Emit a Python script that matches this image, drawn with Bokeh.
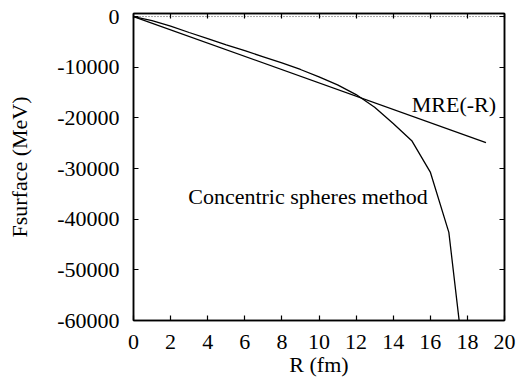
from bokeh.plotting import figure
from bokeh.models import (LinearAxis, FixedTicker, Span, Range1d)
from bokeh.core.properties import value
from bokeh.embed import file_html
from bokeh.resources import INLINE

# ---- data ----
R_spheres = [0, 1, 2, 3, 4, 5, 6, 7, 8, 9, 10, 11, 12, 13, 14, 15, 16, 17, 18]
F_spheres = [0, -800, -1900, -3150, -4350, -5600, -6750, -7950, -9150,
             -10450, -11900, -13500, -15400, -17900, -21100, -24500,
             -30700, -42600, -74000]
R_mre = [0, 19]
F_mre = [0, -24900]

x_ticks = [0, 2, 4, 6, 8, 10, 12, 14, 16, 18, 20]
x_tick_labels = ["0", "2", "4", "6", "8", "10", "12", "14", "16", "18", "20"]
y_ticks = [0, -10000, -20000, -30000, -40000, -50000, -60000]
y_tick_labels = ["0", "-10000", "-20000", "-30000", "-40000", "-50000", "-60000"]

FONT = "Liberation Serif"
FS = "22px"
W, H = 517, 379

p = figure(width=W, height=H,
           x_range=Range1d(0, 20), y_range=Range1d(-60000, 600),
           output_backend="svg", toolbar_location=None,
           min_border_left=133, min_border_top=13, min_border_right=13,
           min_border_bottom=57, x_axis_location=None, y_axis_location=None)
p.background_fill_color = "white"
p.border_fill_color = "white"
p.xgrid.grid_line_color = None
p.ygrid.grid_line_color = None
p.outline_line_color = "black"
p.outline_line_width = 1.5


def style(ax, ticks, labels, show):
    ax.ticker = FixedTicker(ticks=ticks, minor_ticks=[])
    ax.major_tick_in = 5
    ax.major_tick_out = 0
    ax.minor_tick_in = 0
    ax.minor_tick_out = 0
    ax.axis_line_color = "black"
    ax.axis_line_width = 1.5
    ax.major_tick_line_color = "black"
    ax.major_tick_line_width = 1.2
    if show:
        ax.major_label_overrides = {t: l for t, l in zip(ticks, labels)}
        ax.major_label_text_font = FONT
        ax.major_label_text_font_size = FS
        ax.major_label_text_color = "black"
    else:
        ax.major_label_overrides = {t: "" for t in ticks}
        ax.major_label_standoff = 0


bottom = LinearAxis()
style(bottom, x_ticks, x_tick_labels, True)
bottom.major_label_standoff = 14
bottom.axis_label = "R (fm)"
bottom.axis_label_text_font = FONT
bottom.axis_label_text_font_size = FS
bottom.axis_label_text_font_style = "normal"
bottom.axis_label_text_color = "black"
bottom.axis_label_standoff = 0
p.add_layout(bottom, "below")

left = LinearAxis()
style(left, y_ticks, y_tick_labels, True)
left.major_label_standoff = 14
left.axis_label = "Fsurface (MeV)"
left.axis_label_text_font = FONT
left.axis_label_text_font_size = FS
left.axis_label_text_font_style = "normal"
left.axis_label_text_color = "black"
left.axis_label_standoff = 22
p.add_layout(left, "left")

top = LinearAxis()
style(top, x_ticks, x_tick_labels, False)
p.add_layout(top, "above")

right = LinearAxis()
style(right, y_ticks, y_tick_labels, False)
p.add_layout(right, "right")

p.add_layout(Span(location=0, dimension="width", line_color="black",
                  line_width=1, line_dash="1 2", line_alpha=0.7))

p.line(R_mre, F_mre, line_color="black", line_width=1.3)
p.line(R_spheres, F_spheres, line_color="black", line_width=1.3)

p.text(x=[15.0], y=[-17400], text=["MRE(-R)"], text_font=value(FONT),
       text_font_size=FS, text_color="black",
       text_baseline="alphabetic", text_align="left")
p.text(x=[2.95], y=[-35600], text=["Concentric spheres method"],
       text_font=value(FONT), text_font_size=FS, text_color="black",
       text_baseline="alphabetic", text_align="left")

open("out.html", "w").write(file_html(p, INLINE))
